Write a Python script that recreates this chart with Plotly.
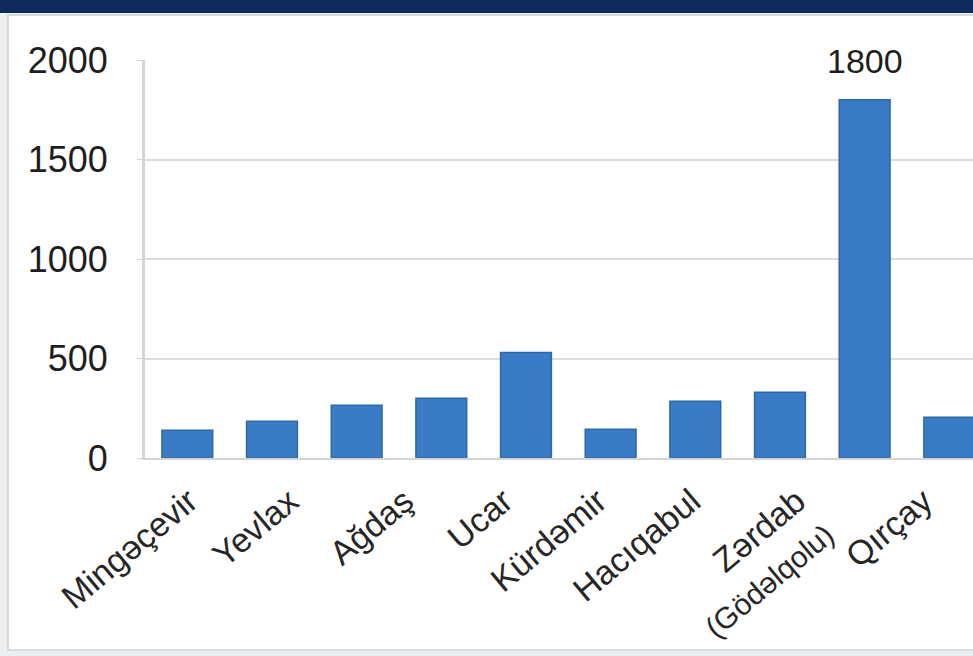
import plotly.graph_objects as go

# ---- data ----
bar_index = [0, 1, 2, 3, 4, 5, 6, 7, 8, 9]
values = [140, 185, 265, 300, 530, 145, 285, 330, 1800, 205]
tick_labels = ["Mingəçevir", "Yevlax", "Ağdaş", "Ucar", "Kürdəmir", "Hacıqabul",
               "Zərdab<br><span style='font-size:30px'>(Gödəlqolu)</span>", "Qırçay"]
y_ticks = [0, 500, 1000, 1500, 2000]

# label only the peak value
peak = max(values)
peak_i = values.index(peak)

# ---- layout geometry (pixels) ----
W, H = 973, 656
L, R, T, B = 145, 0, 60, 198
pw, ph = W - L - R, H - T - B
def fx(px):
    return (px - L) / pw
def fy(py):
    return (H - B - py) / ph

label_positions = [0.02, 1.21, 2.57, 3.74, 4.85, 5.96, 7.2, 8.7]

FONT = "Liberation Sans, Arial, sans-serif"

fig = go.Figure(go.Bar(
    x=bar_index, y=values,
    width=0.6,
    marker=dict(color="#3a7bc5", line=dict(color="#2d68a9", width=1.5)),
    hoverinfo="x+y",
))

fig.add_annotation(
    x=bar_index[peak_i], y=peak, text=str(peak), showarrow=False,
    xref="x", yref="y", yanchor="bottom", yshift=18,
    font=dict(family=FONT, size=34, color="#1e1e1e"),
)

shapes = [
    # white panel
    dict(type="rect", xref="paper", yref="paper", layer="below",
         x0=fx(8), x1=fx(990), y0=fy(650), y1=fy(15),
         fillcolor="#ffffff", line=dict(color="#d6d9dd", width=2)),
    # navy title band
    dict(type="rect", xref="paper", yref="paper", layer="below",
         x0=fx(-5), x1=fx(990), y0=fy(13), y1=fy(-5),
         fillcolor="#0f2b5c", line=dict(width=0)),
]

fig.update_layout(
    width=W, height=H,
    margin=dict(l=L, r=R, t=T, b=B, pad=0, autoexpand=False),
    paper_bgcolor="#eceef0",
    plot_bgcolor="rgba(0,0,0,0)",
    showlegend=False,
    shapes=shapes,
    font=dict(family=FONT, color="#1e1e1e"),
    xaxis=dict(
        range=[-0.5, 9.28], automargin=False,
        tickmode="array", tickvals=label_positions, ticktext=tick_labels,
        tickangle=-40, tickfont=dict(family=FONT, size=34, color="#262626"),
        showgrid=False, zeroline=False,
        showline=True, linecolor="#d4d4d4", linewidth=2,
        ticks="", ticklabelstandoff=8,
    ),
    yaxis=dict(
        range=[0, 2000], automargin=False,
        tickmode="array", tickvals=y_ticks,
        tickfont=dict(family=FONT, size=36, color="#1e1e1e"),
        showgrid=True, gridcolor="#dcdcdc", gridwidth=2,
        zeroline=False,
        showline=True, linecolor="#d4d4d4", linewidth=3,
        ticks="outside", ticklen=5, tickcolor="#d4d4d4",
        ticklabelstandoff=22,
    ),
)

fig.write_html("out.html",
               config={"displayModeBar": False},
               post_script="document.body.style.margin='0px';document.body.style.overflow='hidden';")
